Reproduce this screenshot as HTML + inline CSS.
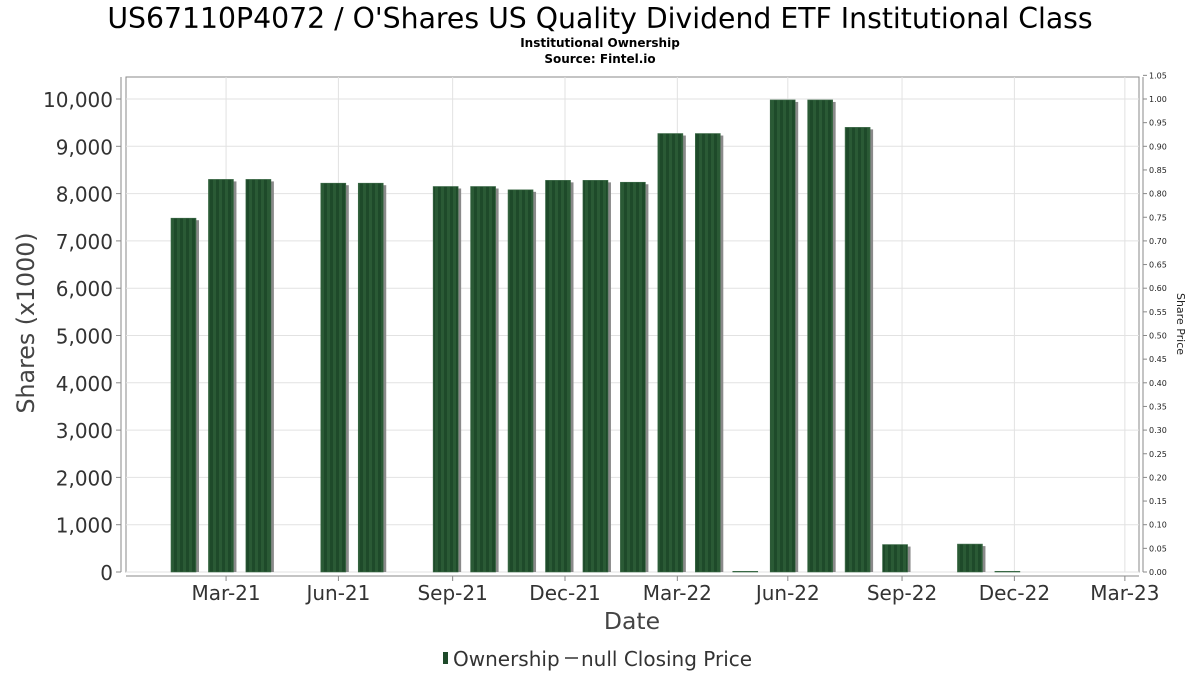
<!DOCTYPE html>
<html><head><meta charset="utf-8"><style>
body{margin:0;background:#fff;font-family:"DejaVu Sans","Liberation Sans",sans-serif}
svg text{font-family:"DejaVu Sans","Liberation Sans",sans-serif}
</style></head><body>
<svg id="c" width="1200" height="675" xmlns="http://www.w3.org/2000/svg">
<defs>
<pattern id="stripe" width="6" height="10" patternUnits="userSpaceOnUse">
<rect width="6" height="10" fill="#1e4a2a"/><rect x="3" width="3" height="10" fill="#2a5a35"/>
</pattern>
</defs>
<text x="600" y="28" font-size="28.3" text-anchor="middle" fill="#000">US67110P4072 / O'Shares US Quality Dividend ETF Institutional Class</text>
<text x="600" y="47" font-size="12" font-weight="bold" text-anchor="middle">Institutional Ownership</text>
<text x="600" y="63" font-size="12" font-weight="bold" text-anchor="middle">Source: Fintel.io</text>
<rect x="126" y="77" width="1013" height="495" fill="#fff" stroke="#888"/>
<g id="grid"></g>
<g id="bars"></g>
<line x1="121" y1="77" x2="121" y2="572" stroke="#888"/>
<line x1="126" y1="576" x2="1139" y2="576" stroke="#888"/>
<line x1="1143" y1="77" x2="1143" y2="572" stroke="#888"/>
<g id="axes"></g>
<text transform="translate(34,323) rotate(-90)" font-size="23.7" fill="#444" text-anchor="middle">Shares (x1000)</text>
<text transform="translate(1177,324) rotate(90)" font-size="11" fill="#222" text-anchor="middle">Share Price</text>
<text x="632" y="629" font-size="23.5" fill="#444" text-anchor="middle">Date</text>
<g>
<rect x="443" y="652" width="5" height="12" fill="#1e4a2a"/>
<text x="453" y="666" font-size="20" fill="#333">Ownership</text>
<line x1="565" y1="658" x2="578" y2="658" stroke="#333" stroke-width="1.5"/>
<text x="581" y="666" font-size="20" fill="#333">null Closing Price</text>
</g>
</svg>
<script>
const monthIndex=[0,1,2,4,5,7,8,9,10,11,12,13,14,15,16,17,18,19,21,22];
const shares=[7480,8300,8300,8220,8220,8150,8150,8080,8280,8280,8240,9270,9270,15,9980,9980,9400,580,590,15];
const yTicks=[0,1000,2000,3000,4000,5000,6000,7000,8000,9000,10000];
const priceTicks=[0,0.05,0.1,0.15,0.2,0.25,0.3,0.35,0.4,0.45,0.5,0.55,0.6,0.65,0.7,0.75,0.8,0.85,0.9,0.95,1.0,1.05];
const xLabels=["Mar-21","Jun-21","Sep-21","Dec-21","Mar-22","Jun-22","Sep-22","Dec-22","Mar-23"];
const xLabelMonths=[1.15,4.15,7.2,10.2,13.2,16.15,19.2,22.2,25.15];
const NS="http://www.w3.org/2000/svg";
function y(v){return 572-v*0.0473;}
function yp(p){return 572-p*473;}
function x(m){return 183+m*37.45;}
function mk(t,a,p){const e=document.createElementNS(NS,t);for(const k in a)e.setAttribute(k,a[k]);p.appendChild(e);return e;}
const grid=document.getElementById('grid'),bars=document.getElementById('bars'),axes=document.getElementById('axes');
yTicks.forEach(v=>{
 const l=mk('line',{x1:126,x2:1139,y1:y(v),y2:y(v),stroke:'#e2e2e2'},grid);
 
 
 const t=mk('line',{x1:116,x2:121,y1:y(v),y2:y(v),stroke:'#888'},axes);
 
 
 const tx=mk('text',{x:113,y:y(v)+8,'font-size':20,fill:'#333','text-anchor':'end'},axes);
 tx.textContent=v.toLocaleString('en-US');
 
 
});
priceTicks.forEach(p=>{
 const t=mk('line',{x1:1143,x2:1147,y1:yp(p),y2:yp(p),stroke:'#888'},axes);
 
 
 const tx=mk('text',{x:1149,y:yp(p)+3,'font-size':8,fill:'#222'},axes);
 tx.textContent=p.toFixed(2);
 
 
});
xLabelMonths.forEach((m,i)=>{
 const xx=x(m);
 const g=mk('line',{x1:xx,x2:xx,y1:77,y2:572,stroke:'#e2e2e2'},grid);
 
 
 const t=mk('line',{x1:xx,x2:xx,y1:576,y2:581,stroke:'#888'},axes);
 
 
 const tx=mk('text',{x:xx,y:600,'font-size':20,fill:'#333','text-anchor':'middle'},axes);
 tx.textContent=xLabels[i];
 
 
});
shares.forEach((v,i)=>{
 const cx=x(monthIndex[i]),top=y(v),h=572-top;
 const s=mk('rect',{x:cx-12+3,y:top+2,width:25,height:Math.max(h-2,0),fill:'#8a8a8a'},bars);
 
 
 const b=mk('rect',{x:cx-12,y:top,width:25,height:h,fill:'url(#stripe)',stroke:'#3d6b48','stroke-width':0.6},bars);
 
 
});
</script>
</body></html>
